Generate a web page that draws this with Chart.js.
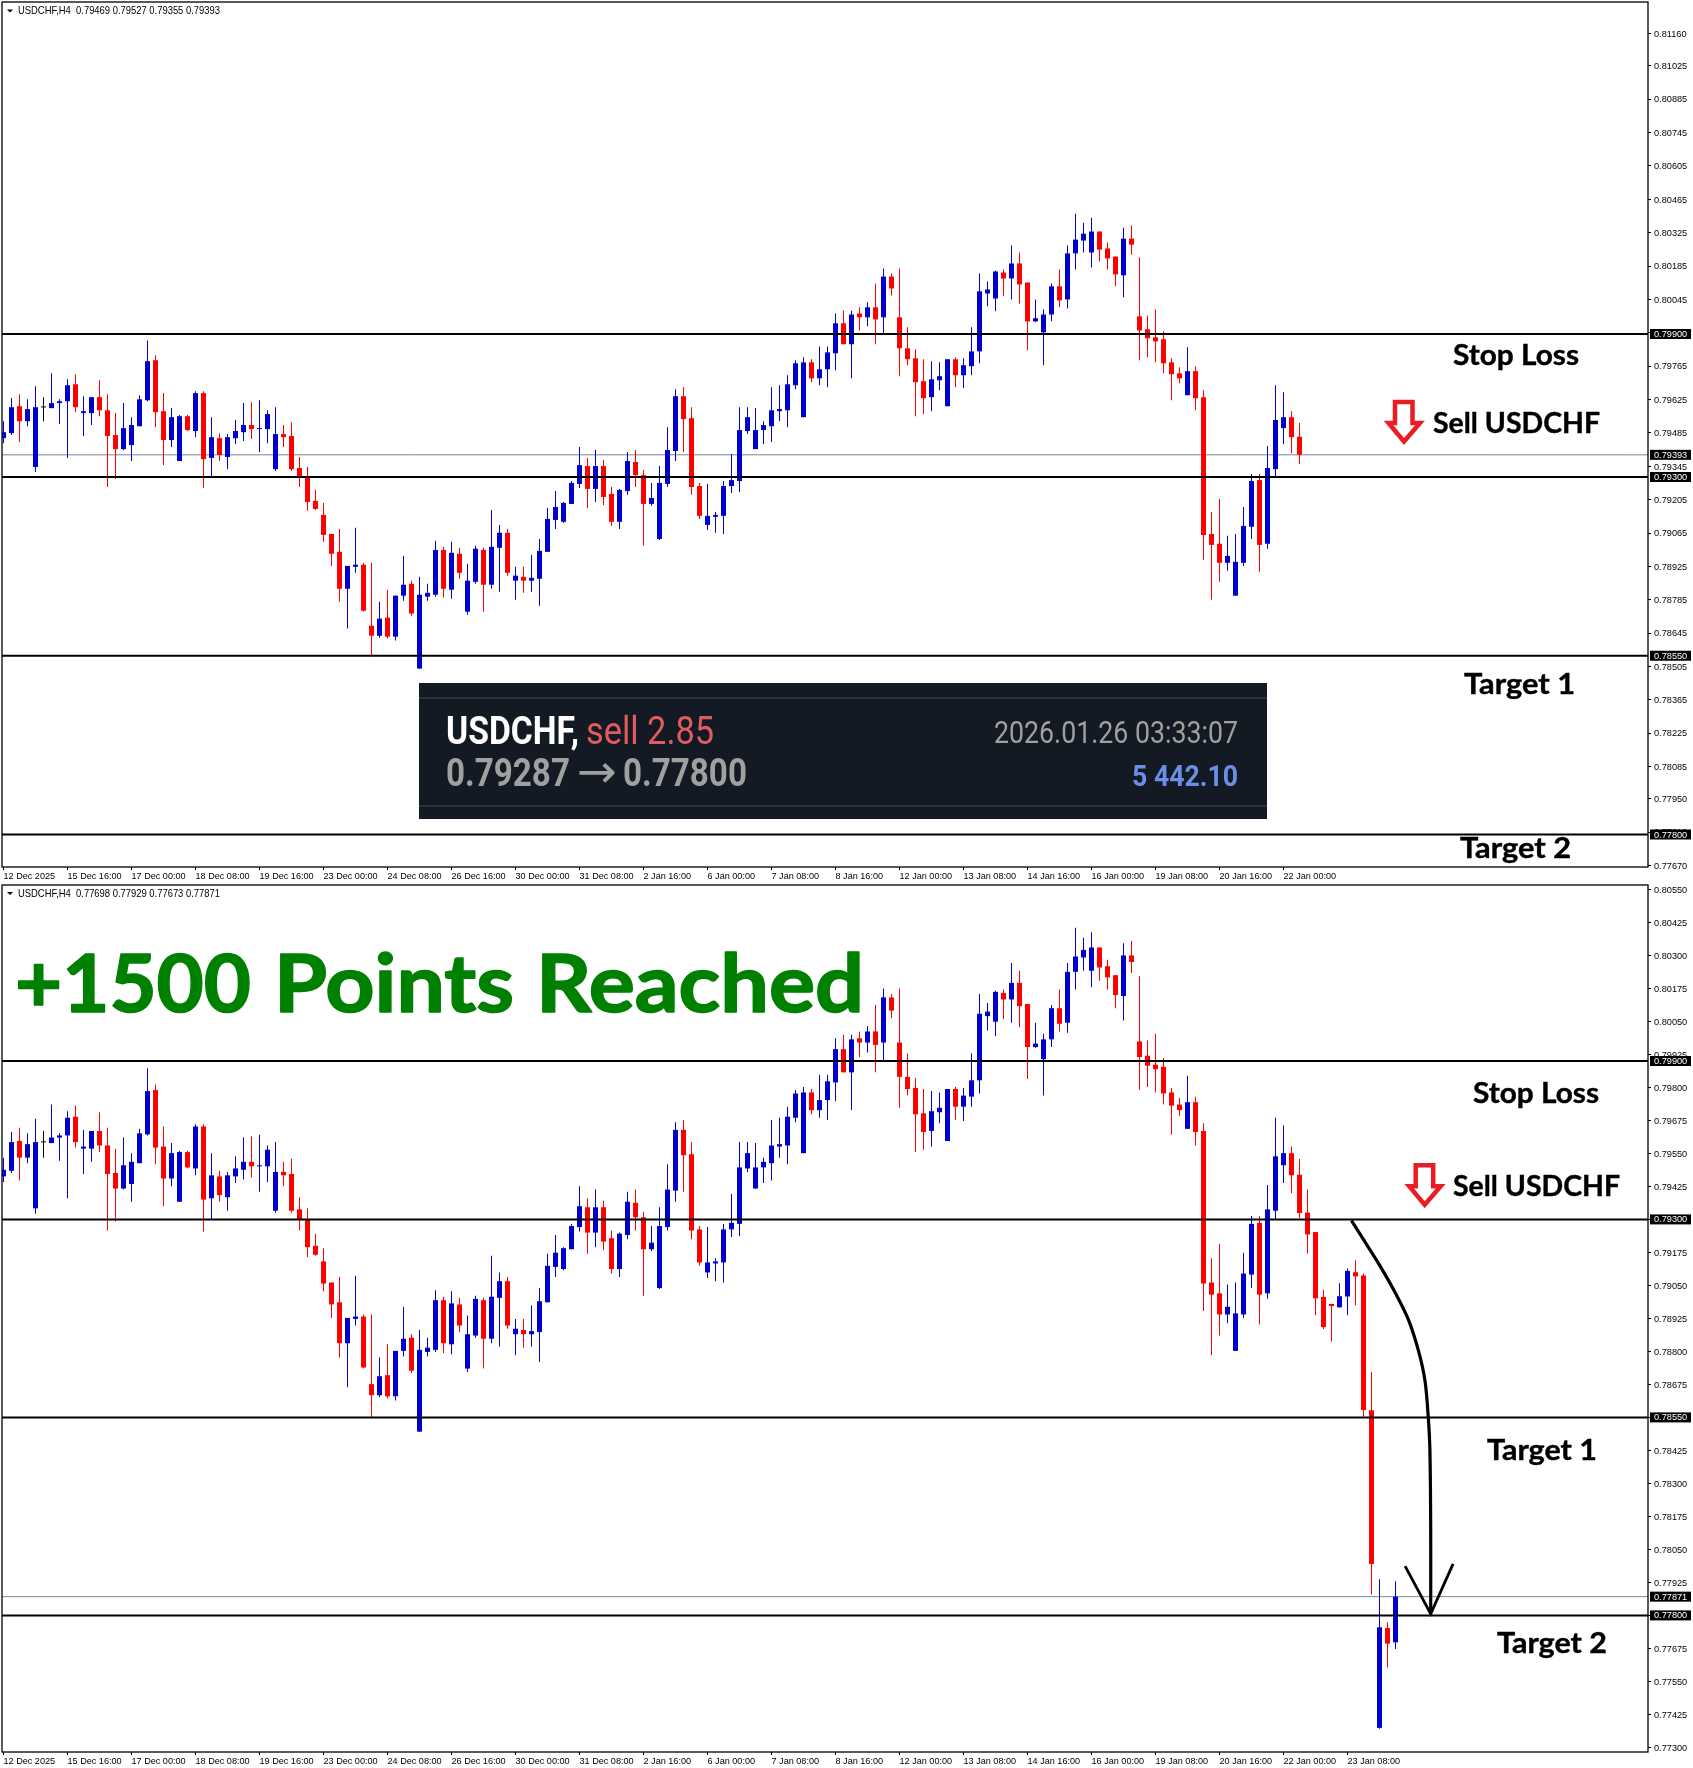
<!DOCTYPE html>
<html lang="en">
<head>
<meta charset="UTF-8" />
<title>USDCHF H4</title>
<style>
  body { margin: 0; background: #fff; }
  .wrap { position: relative; width: 1693px; height: 1768px; overflow: hidden; }
  canvas { position: absolute; left: 0; }
  #topChart { top: 0; }
  #bottomChart { top: 884px; }
  svg { position: absolute; left: 0; top: 0; pointer-events: none; }
  .note { font-family: Lato, sans-serif; font-weight: 700; font-size: 28px; fill: #000; stroke: #000; stroke-width: 0.4px; }
  .head { font-family: "Liberation Sans", sans-serif; font-size: 10.5px; fill: #000; }
  .panel { font-family: Roboto, sans-serif; }
  .big { font-family: Lato, sans-serif; font-weight: 700; font-size: 81px; fill: #008000; stroke: #008000; stroke-width: 1.6px; stroke-linejoin: round; }
</style>
<script src="https://cdn.jsdelivr.net/npm/chart.js"></script>
</head>
<body>
<div class="wrap">
  <canvas id="topChart" width="1693" height="885"></canvas>
  <canvas id="bottomChart" width="1693" height="884"></canvas>
  <svg width="1693" height="1768" viewBox="0 0 1693 1768">
    <polygon points="7,9.5 13,9.5 10,12.5" fill="#000" />
    <text class="head" x="18" y="14" textLength="202" lengthAdjust="spacingAndGlyphs" xml:space="preserve">USDCHF,H4  0.79469 0.79527 0.79355 0.79393</text>
    <polygon points="7,892 13,892 10,895" fill="#000" />
    <text class="head" x="18" y="897" textLength="202" lengthAdjust="spacingAndGlyphs" xml:space="preserve">USDCHF,H4  0.77698 0.77929 0.77673 0.77871</text>

    <text class="note" x="1453" y="365" textLength="126" lengthAdjust="spacingAndGlyphs">Stop Loss</text>
    <text class="note" x="1433" y="433" textLength="167" lengthAdjust="spacingAndGlyphs">Sell USDCHF</text>
    <text class="note" x="1464" y="694" textLength="111" lengthAdjust="spacingAndGlyphs">Target 1</text>
    <text class="note" x="1460" y="858" textLength="111" lengthAdjust="spacingAndGlyphs">Target 2</text>
    <polygon points="1395,402 1412.5,402 1412.5,423 1420,423 1404,441.5 1388.5,423 1395,423" fill="none" stroke="#ea1c24" stroke-width="4.5" />

    <text class="note" x="1473" y="1103" textLength="126" lengthAdjust="spacingAndGlyphs">Stop Loss</text>
    <text class="note" x="1453" y="1196" textLength="167" lengthAdjust="spacingAndGlyphs">Sell USDCHF</text>
    <text class="note" x="1487" y="1460" textLength="110" lengthAdjust="spacingAndGlyphs">Target 1</text>
    <text class="note" x="1497" y="1653" textLength="110" lengthAdjust="spacingAndGlyphs">Target 2</text>
    <polygon points="1415.7,1165.3 1433.2,1165.3 1433.2,1186.3 1440.7,1186.3 1424.7,1204.8 1409.2,1186.3 1415.7,1186.3" fill="none" stroke="#ea1c24" stroke-width="4.5" />

    <text class="big" x="15" y="1012" textLength="236" lengthAdjust="spacingAndGlyphs">+1500</text>
    <text class="big" x="274" y="1012" textLength="240" lengthAdjust="spacingAndGlyphs">Points</text>
    <text class="big" x="536" y="1012" textLength="328" lengthAdjust="spacingAndGlyphs">Reached</text>

    <rect x="419" y="683" width="848" height="136" fill="#131a24" />
    <rect x="419" y="697" width="848" height="2" fill="#2b303f" />
    <rect x="419" y="805" width="848" height="2" fill="#2b303f" />
    <text class="panel" x="446" y="744" textLength="133" lengthAdjust="spacingAndGlyphs" font-size="38" font-weight="700" fill="#fff">USDCHF,</text>
    <text class="panel" x="586" y="744" textLength="128" lengthAdjust="spacingAndGlyphs" font-size="38" fill="#e05c5f">sell 2.85</text>
    <text class="panel" x="446" y="786" textLength="124" lengthAdjust="spacingAndGlyphs" font-size="38" font-weight="700" fill="#a0a0a0">0.79287</text>
    <text x="577" y="787" textLength="40" lengthAdjust="spacingAndGlyphs" font-family="DejaVu Sans, sans-serif" font-size="46" fill="#a0a0a0">→</text>
    <text class="panel" x="623" y="786" textLength="124" lengthAdjust="spacingAndGlyphs" font-size="38" font-weight="700" fill="#a0a0a0">0.77800</text>
    <text class="panel" x="994" y="743" textLength="244" lengthAdjust="spacingAndGlyphs" font-size="31" fill="#a0a0a0">2026.01.26 03:33:07</text>
    <text class="panel" x="1132" y="786" textLength="106" lengthAdjust="spacingAndGlyphs" font-size="30" font-weight="700" fill="#6b8fe6">5 442.10</text>
  </svg>
</div>

<script>
  // H4 bars, oldest first
  const opens = [
    0.79463,0.79484,0.79597,0.79534,0.79342,0.79592,0.79589,0.79610,0.79618,0.79689,
    0.79568,0.79568,0.79635,0.79580,0.79476,0.79417,0.79434,0.79513,0.79622,0.79790,
    0.79576,0.79455,0.79367,0.79555,0.79493,0.79652,0.79380,0.79463,0.79384,0.79463,
    0.79488,0.79518,0.79501,0.79501,0.79333,0.79480,0.79472,0.79338,0.79300,0.79200,
    0.79141,0.79061,0.78986,0.78831,0.78923,0.78932,0.78676,0.78634,0.78710,0.78630,
    0.78802,0.78852,0.78496,0.78798,0.78806,0.78994,0.78827,0.78978,0.78735,0.78860,
    0.78994,0.78848,0.79003,0.79066,0.78865,0.78881,0.78865,0.78873,0.78986,0.79120,
    0.79112,0.79187,0.79271,0.79346,0.79250,0.79346,0.79229,0.79112,0.79241,0.79363,
    0.79308,0.79187,0.79040,0.79271,0.79409,0.79639,0.79547,0.79262,0.79099,0.79133,
    0.79137,0.79262,0.79283,0.79493,0.79417,0.79497,0.79513,0.79576,0.79580,0.79685,
    0.79551,0.79781,0.79714,0.79752,0.79819,0.79945,0.79857,0.79986,0.79970,0.80012,
    0.79970,0.80141,0.79970,0.79840,0.79798,0.79702,0.79635,0.79706,0.79597,0.79794,
    0.79727,0.79765,0.79827,0.80070,0.80049,0.80158,0.80133,0.80196,0.80116,0.79953,
    0.79907,0.79982,0.80100,0.80045,0.80238,0.80292,0.80242,0.80330,0.80259,0.80225,
    0.80146,0.80300,0.79974,0.79920,0.79886,0.79878,0.79781,0.79735,0.79643,0.79744,
    0.79635,0.79061,0.79020,0.78940,0.78802,0.78940,0.79091,0.79287,0.79020,0.79333,
    0.79505,0.79551,0.79469,0.79326,0.79252,0.79006,0.78980,0.78967,0.79008,0.79100,
    0.79088,0.78577,0.77374,0.77752,0.77698
  ];
  const highs = [
    0.79534,0.79631,0.79647,0.79626,0.79681,0.79635,0.79735,0.79626,0.79710,0.79731,
    0.79639,0.79635,0.79706,0.79647,0.79568,0.79610,0.79551,0.79643,0.79873,0.79811,
    0.79652,0.79589,0.79560,0.79560,0.79660,0.79660,0.79551,0.79484,0.79480,0.79539,
    0.79610,0.79614,0.79622,0.79580,0.79593,0.79518,0.79530,0.79384,0.79342,0.79246,
    0.79191,0.79061,0.79082,0.78927,0.79087,0.78940,0.78940,0.78777,0.78827,0.78802,
    0.78969,0.78865,0.78881,0.78852,0.79032,0.79007,0.79028,0.79003,0.78936,0.79011,
    0.79003,0.79162,0.79099,0.79082,0.78923,0.78923,0.78974,0.79040,0.79170,0.79241,
    0.79195,0.79283,0.79426,0.79380,0.79413,0.79371,0.79258,0.79250,0.79405,0.79413,
    0.79329,0.79275,0.79346,0.79509,0.79668,0.79677,0.79593,0.79275,0.79271,0.79153,
    0.79283,0.79396,0.79593,0.79593,0.79589,0.79534,0.79677,0.79685,0.79727,0.79790,
    0.79802,0.79794,0.79848,0.79848,0.79986,0.79999,0.79999,0.80012,0.80033,0.80112,
    0.80175,0.80154,0.80175,0.79928,0.79836,0.79794,0.79786,0.79781,0.79794,0.79802,
    0.79798,0.79928,0.80154,0.80120,0.80166,0.80171,0.80271,0.80242,0.80116,0.80045,
    0.80003,0.80112,0.80171,0.80271,0.80405,0.80367,0.80388,0.80330,0.80284,0.80225,
    0.80346,0.80355,0.80221,0.79978,0.80003,0.79911,0.79798,0.79760,0.79844,0.79765,
    0.79664,0.79153,0.79208,0.79053,0.79061,0.79174,0.79313,0.79313,0.79430,0.79685,
    0.79656,0.79576,0.79529,0.79413,0.79252,0.79034,0.78980,0.79058,0.79114,0.79145,
    0.79095,0.78722,0.77937,0.77774,0.77929
  ];
  const lows = [
    0.79442,0.79476,0.79447,0.79513,0.79321,0.79534,0.79589,0.79522,0.79380,0.79572,
    0.79472,0.79518,0.79555,0.79258,0.79292,0.79413,0.79367,0.79513,0.79618,0.79509,
    0.79350,0.79426,0.79367,0.79493,0.79467,0.79254,0.79300,0.79367,0.79333,0.79438,
    0.79451,0.79459,0.79405,0.79442,0.79325,0.79426,0.79325,0.79258,0.79158,0.79162,
    0.79028,0.78927,0.78777,0.78664,0.78898,0.78735,0.78547,0.78626,0.78622,0.78614,
    0.78781,0.78718,0.78496,0.78781,0.78798,0.78794,0.78789,0.78873,0.78722,0.78852,
    0.78735,0.78831,0.78819,0.78886,0.78785,0.78814,0.78819,0.78760,0.78986,0.79082,
    0.79107,0.79187,0.79254,0.79170,0.79195,0.79183,0.79095,0.79082,0.79225,0.79258,
    0.79011,0.79179,0.79036,0.79258,0.79367,0.79405,0.79225,0.79124,0.79078,0.79066,
    0.79061,0.79233,0.79237,0.79480,0.79417,0.79438,0.79447,0.79534,0.79509,0.79668,
    0.79551,0.79698,0.79685,0.79677,0.79748,0.79857,0.79714,0.79915,0.79932,0.79857,
    0.79901,0.80062,0.79723,0.79769,0.79555,0.79564,0.79576,0.79664,0.79597,0.79677,
    0.79673,0.79727,0.79777,0.80016,0.79995,0.80058,0.80045,0.80028,0.79832,0.79949,
    0.79769,0.79953,0.80012,0.80007,0.80171,0.80242,0.80179,0.80204,0.80171,0.80100,
    0.80053,0.80233,0.79790,0.79802,0.79781,0.79735,0.79622,0.79693,0.79643,0.79580,
    0.78953,0.78785,0.78860,0.78907,0.78802,0.78927,0.79040,0.78902,0.78999,0.79300,
    0.79438,0.79400,0.79305,0.79171,0.78937,0.78885,0.78838,0.78966,0.78937,0.78975,
    0.78551,0.77879,0.77371,0.77603,0.77673
  ];
  const closes = [
    0.79488,0.79593,0.79534,0.79585,0.79593,0.79592,0.79610,0.79618,0.79685,0.79593,
    0.79576,0.79635,0.79580,0.79472,0.79417,0.79505,0.79518,0.79626,0.79786,0.79572,
    0.79455,0.79551,0.79555,0.79497,0.79652,0.79375,0.79467,0.79392,0.79467,0.79493,
    0.79518,0.79501,0.79505,0.79564,0.79480,0.79467,0.79333,0.79300,0.79195,0.79166,
    0.79057,0.78978,0.78831,0.78927,0.78932,0.78739,0.78634,0.78706,0.78630,0.78802,
    0.78848,0.78727,0.78806,0.78814,0.78994,0.78831,0.78982,0.78898,0.78865,0.78999,
    0.78848,0.79007,0.79066,0.78898,0.78886,0.78865,0.78877,0.78990,0.79124,0.79174,
    0.79191,0.79275,0.79350,0.79250,0.79346,0.79216,0.79112,0.79246,0.79367,0.79308,
    0.79187,0.79212,0.79275,0.79413,0.79639,0.79543,0.79258,0.79137,0.79137,0.79141,
    0.79262,0.79287,0.79497,0.79551,0.79497,0.79518,0.79580,0.79585,0.79689,0.79777,
    0.79781,0.79714,0.79752,0.79823,0.79945,0.79857,0.79982,0.79970,0.80012,0.79961,
    0.80141,0.80091,0.79840,0.79794,0.79698,0.79631,0.79710,0.79723,0.79794,0.79727,
    0.79769,0.79827,0.80079,0.80087,0.80162,0.80133,0.80196,0.80108,0.79953,0.79966,
    0.79982,0.80100,0.80041,0.80238,0.80296,0.80321,0.80330,0.80254,0.80217,0.80150,
    0.80300,0.80275,0.79915,0.79882,0.79869,0.79777,0.79731,0.79714,0.79744,0.79631,
    0.79057,0.79015,0.78940,0.78969,0.78944,0.79095,0.79283,0.79015,0.79338,0.79539,
    0.79551,0.79467,0.79324,0.79243,0.79001,0.78892,0.78972,0.79009,0.79105,0.79084,
    0.78578,0.77995,0.77755,0.77693,0.77871
  ];

  // the upper chart stops at bar 162, which was still forming: O H L C
  const formingBar = [0.79469, 0.79527, 0.79355, 0.79393];
  const topBarCount = 163;

  const topTicks = [
    0.81160,0.81025,0.80885,0.80745,0.80605,0.80465,0.80325,0.80185,0.80045,0.79905,
    0.79765,0.79625,0.79485,0.79345,0.79205,0.79065,0.78925,0.78785,0.78645,0.78505,
    0.78365,0.78225,0.78085,0.77950,0.77810,0.77670
  ];
  const bottomTicks = [
    0.80550,0.80425,0.80300,0.80175,0.80050,0.79925,0.79800,0.79675,0.79550,0.79425,
    0.79300,0.79175,0.79050,0.78925,0.78800,0.78675,0.78550,0.78425,0.78300,0.78175,
    0.78050,0.77925,0.77800,0.77675,0.77550,0.77425,0.77300
  ];
  // one time label every 8 bars
  const timeLabels = [
    "12 Dec 2025","15 Dec 16:00","17 Dec 00:00","18 Dec 08:00","19 Dec 16:00","23 Dec 00:00",
    "24 Dec 08:00","26 Dec 16:00","30 Dec 00:00","31 Dec 08:00","2 Jan 16:00","6 Jan 00:00",
    "7 Jan 08:00","8 Jan 16:00","12 Jan 00:00","13 Jan 08:00","14 Jan 16:00","16 Jan 00:00",
    "19 Jan 08:00","20 Jan 16:00","22 Jan 00:00","23 Jan 08:00"
  ];

  const levels = [0.79900, 0.79300, 0.78550, 0.77800];

  // hand drawn arrow on the lower chart: bar index, price
  const curveBars = [168.5,170.6,172.1,173.9,175.6,176.9,177.7,178.1,178.3,178.4,178.4];
  const curvePrices = [0.79295,0.79195,0.79122,0.79026,0.78921,0.78799,0.78686,0.78549,0.78428,0.78137,0.77806];
  const headBars = [175.2,178.4,181.2];
  const headPrices = [0.77987,0.77806,0.77995];

  const BLUE = "#0000cd";
  const RED = "#ff0000";
  const BAR_STEP = 8;
  const PLOT_WIDTH = 1646;
  const xMin = -1.5 / BAR_STEP;
  const xMax = xMin + PLOT_WIDTH / BAR_STEP;
  const PRICE_FONT = { family: "'Liberation Sans', sans-serif", size: 9.2 };
  const TIME_FONT = { family: "'Liberation Sans', sans-serif", size: 9.1 };

  function barColor(o, c) {
    if (c > o) return BLUE;
    if (c < o) return RED;
    return "#000";
  }

  function candleDatasets(o, h, l, c) {
    const colors = o.map((v, i) => barColor(v, c[i]));
    const common = { grouped: false, inflateAmount: 0, borderWidth: 0, backgroundColor: colors };
    return [
      { ...common, order: 2, barThickness: 1,
        data: o.map((v, i) => ({ x: i, y: [l[i], h[i]] })) },
      { ...common, order: 1, barThickness: 5, minBarLength: 1,
        data: o.map((v, i) => ({ x: i, y: [Math.min(v, c[i]), Math.max(v, c[i])] })) },
    ];
  }

  function hLine(price, color, width, order) {
    return { type: "line", order, borderColor: color, borderWidth: width, pointRadius: 0,
      data: [{ x: xMin, y: price }, { x: xMax, y: price }] };
  }

  // labels may overhang the plot, so the scales ask for no extra room
  function noOverhang(scale) {
    scale.paddingTop = 0;
    scale.paddingBottom = 0;
    scale.paddingLeft = 0;
    scale.paddingRight = 0;
  }

  // frame round the plot and the black price tags on the right axis
  function overlayPlugin(tags) {
    return {
      id: "overlay",
      afterDraw(chart) {
        const { ctx, chartArea: a, scales } = chart;
        ctx.save();
        ctx.strokeStyle = "#000";
        ctx.lineWidth = 1.3;
        ctx.strokeRect(a.left, a.top, a.right - a.left, a.bottom - a.top);
        ctx.font = PRICE_FONT.size + "px " + PRICE_FONT.family;
        ctx.textBaseline = "middle";
        tags.forEach((p) => {
          const y = scales.y.getPixelForValue(p);
          ctx.fillStyle = "#000";
          ctx.fillRect(a.right + 2, y - 5, 41, 10);
          ctx.fillStyle = "#fff";
          ctx.fillText(p.toFixed(5), a.right + 6, y + 0.5);
        });
        ctx.restore();
      },
    };
  }

  function makeChart(id, cfg) {
    return new Chart(document.getElementById(id), {
      type: "bar",
      data: { datasets: cfg.datasets },
      plugins: [overlayPlugin(cfg.tags)],
      options: {
        responsive: false,
        animation: false,
        devicePixelRatio: 1,
        events: [],
        layout: { padding: { left: 2, top: cfg.padTop, right: 0, bottom: 0 } },
        plugins: { legend: { display: false }, tooltip: { enabled: false } },
        scales: {
          x: {
            type: "linear",
            offset: false,
            min: xMin,
            max: xMax,
            border: { display: false },
            grid: { offset: false, drawOnChartArea: false, tickLength: 3, tickColor: "#000" },
            ticks: {
              autoSkip: false, maxRotation: 0, align: "start", padding: 1, color: "#000",
              font: TIME_FONT,
              callback: (v) => cfg.labels[v / BAR_STEP],
            },
            afterBuildTicks: (scale) => {
              scale.ticks = cfg.labels.map((_, k) => ({ value: k * BAR_STEP }));
            },
            afterFit: (scale) => { scale.height = cfg.axisHeight; noOverhang(scale); },
          },
          y: {
            position: "right",
            min: cfg.yMin,
            max: cfg.yMax,
            border: { display: false },
            grid: { drawOnChartArea: false, tickLength: 3, tickColor: "#000" },
            ticks: {
              autoSkip: false, padding: 3, color: "#000", font: PRICE_FONT, labelOffset: 0.7,
              callback: (v) => v.toFixed(5),
            },
            afterBuildTicks: (scale) => {
              scale.ticks = cfg.ticks.map((v) => ({ value: v }));
            },
            afterFit: (scale) => { scale.width = 45; noOverhang(scale); },
          },
        },
      },
    });
  }

  // upper chart: shared history plus the bar still forming
  const withForming = (arr, v) => arr.slice(0, topBarCount - 1).concat(v);
  const topO = withForming(opens, formingBar[0]);
  const topH = withForming(highs, formingBar[1]);
  const topL = withForming(lows, formingBar[2]);
  const topC = withForming(closes, formingBar[3]);

  makeChart("topChart", {
    padTop: 2,
    axisHeight: 18,
    yMin: 0.776636,
    yMax: 0.81293,
    ticks: topTicks,
    labels: timeLabels.slice(0, 21),
    tags: [0.79900, 0.79393, 0.79300, 0.78550, 0.77800],
    datasets: [
      ...levels.map((p) => hLine(p, "#000", 2, 0)),
      hLine(formingBar[3], "#778899", 1, 3),
      ...candleDatasets(topO, topH, topL, topC),
    ],
  });

  makeChart("bottomChart", {
    padTop: 1,
    axisHeight: 16,
    yMin: 0.772826,
    yMax: 0.805667,
    ticks: bottomTicks,
    labels: timeLabels,
    tags: [0.79900, 0.79300, 0.78550, 0.77871, 0.77800],
    datasets: [
      ...levels.map((p) => hLine(p, "#000", 2, 0)),
      hLine(closes[closes.length - 1], "#778899", 1, 3),
      ...candleDatasets(opens, highs, lows, closes),
      { type: "line", order: 0, borderColor: "#000", borderWidth: 3.2, pointRadius: 0, tension: 0.3,
        data: curveBars.map((b, i) => ({ x: b, y: curvePrices[i] })) },
      { type: "line", order: 0, borderColor: "#000", borderWidth: 2.8, pointRadius: 0,
        data: headBars.map((b, i) => ({ x: b, y: headPrices[i] })) },
    ],
  });
</script>
</body>
</html>
